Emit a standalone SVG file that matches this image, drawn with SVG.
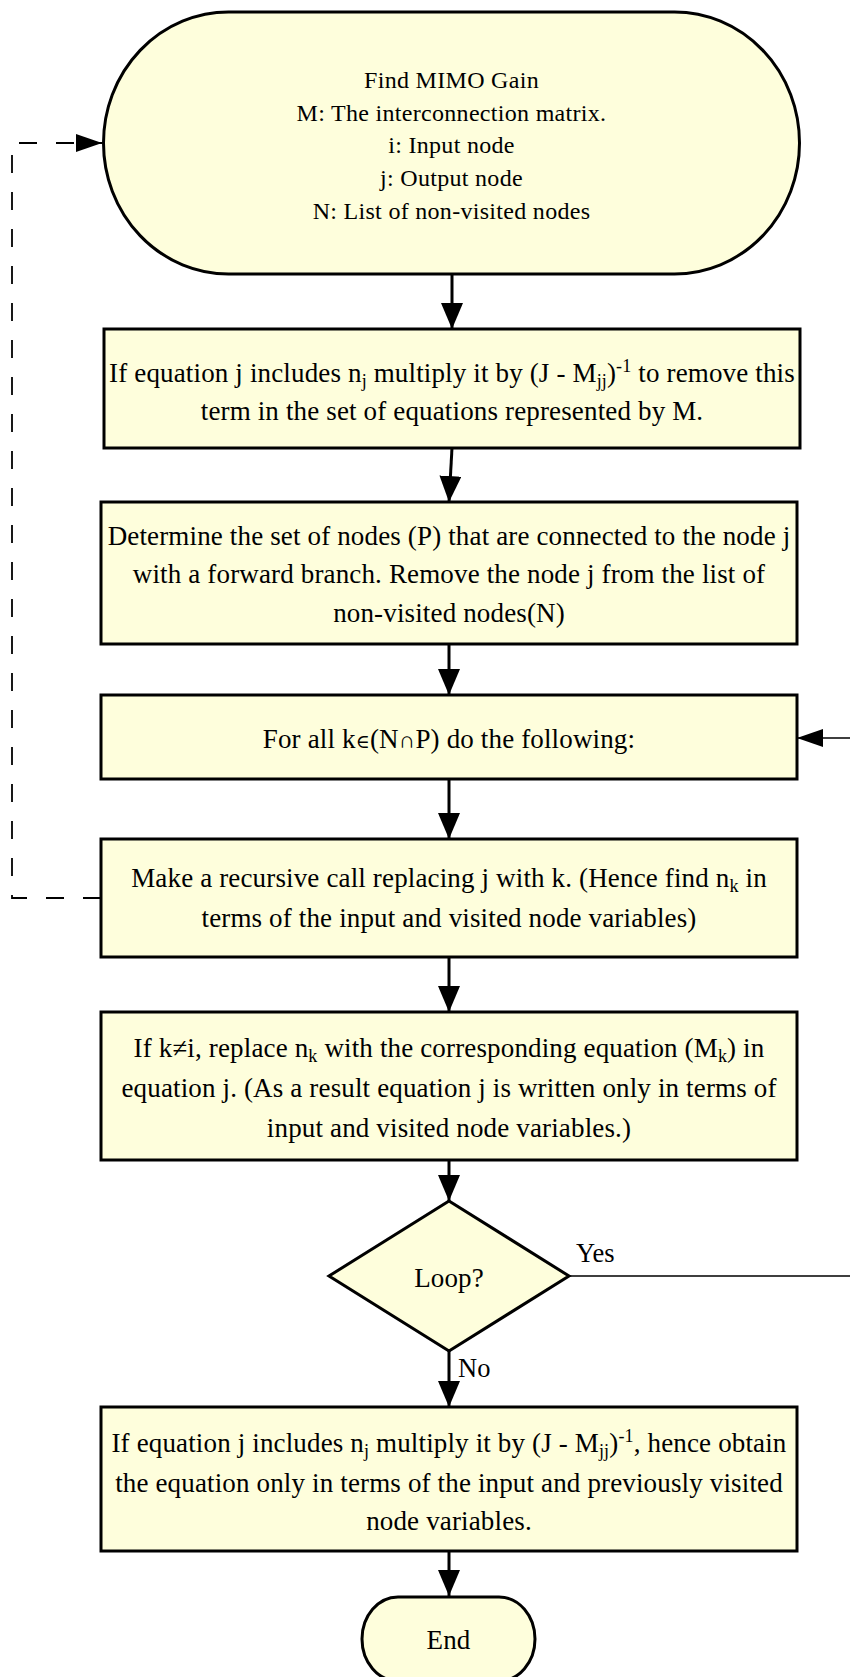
<svg xmlns="http://www.w3.org/2000/svg" width="850" height="1677" viewBox="0 0 850 1677">
  <style>
    .node { fill: #FEFEDC; stroke: #000; stroke-width: 3; }
    .txt { font-family: "Liberation Serif", "DejaVu Serif", serif; font-size: 27px; letter-spacing: 0.15px; fill: #000; text-anchor: middle; }
    .small { font-size: 24px; letter-spacing: 0.3px; }
    .lbl { font-family: "Liberation Serif", "DejaVu Serif", serif; font-size: 26.5px; fill: #000; }
    .flow { fill: none; stroke: #000; stroke-width: 3; }
    .thin { fill: none; stroke: #000; stroke-width: 1.7; }
    .dash { fill: none; stroke: #000; stroke-width: 1.8; stroke-dasharray: 18 19; }
    .sym { font-size: 19px; }
    .cap { font-size: 23px; }
  </style>
  <defs>
    <marker id="arrowV" markerUnits="userSpaceOnUse" markerWidth="26" markerHeight="22" refX="26" refY="11" orient="auto">
      <path d="M0,0 L26,11 L0,22 z" fill="#000"/>
    </marker>
    <marker id="arrowH" markerUnits="userSpaceOnUse" markerWidth="26" markerHeight="18" refX="26" refY="9" orient="auto">
      <path d="M0,0 L26,9 L0,18 z" fill="#000"/>
    </marker>
  </defs>

  <!-- connectors -->
  <g id="connectors">
    <line class="flow" x1="452" y1="275" x2="452" y2="329" marker-end="url(#arrowV)"/>
    <line class="flow" x1="452" y1="448" x2="449" y2="502" marker-end="url(#arrowV)"/>
    <line class="flow" x1="449" y1="644" x2="449" y2="695" marker-end="url(#arrowV)"/>
    <line class="flow" x1="449" y1="779" x2="449" y2="839" marker-end="url(#arrowV)"/>
    <line class="flow" x1="449" y1="957" x2="449" y2="1012" marker-end="url(#arrowV)"/>
    <line class="flow" x1="449" y1="1160" x2="449" y2="1201" marker-end="url(#arrowV)"/>
    <line class="flow" x1="449" y1="1351" x2="449" y2="1407" marker-end="url(#arrowV)"/>
    <line class="flow" x1="449" y1="1551" x2="449" y2="1596" marker-end="url(#arrowV)"/>
    <!-- loop back: Yes branch returns to the for-all step -->
    <path class="thin" d="M569,1276 H864 V738 H797" marker-end="url(#arrowH)"/>
    <!-- recursive call back to the start -->
    <path class="dash" d="M101,898 H12 V143 H102" marker-end="url(#arrowH)"/>
    <text class="lbl" x="576" y="1262">Yes</text>
    <text class="lbl" x="458" y="1377">No</text>
  </g>

  <g id="start">
    <rect class="node" x="103.5" y="12" width="696" height="262" rx="125" ry="131"/>
    <text class="txt small" x="451.5" y="88">Find MIMO Gain</text>
    <text class="txt small" x="451.5" y="120.7">M: The interconnection matrix.</text>
    <text class="txt small" x="451.5" y="153.4">i: Input node</text>
    <text class="txt small" x="451.5" y="186">j: Output node</text>
    <text class="txt small" x="451.5" y="218.7">N: List of non-visited nodes</text>
  </g>

  <g id="remove-self-term">
    <rect class="node" x="104" y="329" width="696" height="119"/>
    <text class="txt" x="452" y="382">If equation j includes n<tspan font-size="18" baseline-shift="-5">j</tspan> multiply it by (J - M<tspan font-size="18" baseline-shift="-5">jj</tspan>)<tspan font-size="18" baseline-shift="10">-1</tspan> to remove this</text>
    <text class="txt" x="452" y="420">term in the set of equations represented by M.</text>
  </g>

  <g id="forward-set">
    <rect class="node" x="101" y="502" width="696" height="142"/>
    <text class="txt" x="449" y="545">Determine the set of nodes (P) that are connected to the node j</text>
    <text class="txt" x="449" y="583">with a forward branch. Remove the node j from the list of</text>
    <text class="txt" x="449" y="622">non-visited nodes(N)</text>
  </g>

  <g id="for-all">
    <rect class="node" x="101" y="695" width="696" height="84"/>
    <text class="txt" x="449" y="748">For all k<tspan class="sym">∈</tspan>(N<tspan class="cap">∩</tspan>P) do the following:</text>
  </g>

  <g id="recursive-call">
    <rect class="node" x="101" y="839" width="696" height="118"/>
    <text class="txt" x="449" y="887">Make a recursive call replacing j with k. (Hence find n<tspan font-size="18" baseline-shift="-5">k</tspan> in</text>
    <text class="txt" x="449" y="927">terms of the input and visited node variables)</text>
  </g>

  <g id="substitute">
    <rect class="node" x="101" y="1012" width="696" height="148"/>
    <text class="txt" x="449" y="1057">If k≠i, replace n<tspan font-size="18" baseline-shift="-5">k</tspan> with the corresponding equation (M<tspan font-size="18" baseline-shift="-5">k</tspan>) in</text>
    <text class="txt" x="449" y="1097">equation j. (As a result equation j is written only in terms of</text>
    <text class="txt" x="449" y="1137">input and visited node variables.)</text>
  </g>

  <g id="loop-decision">
    <polygon class="node" points="449,1201 569,1276 449,1351 329,1276"/>
    <text class="txt" x="449" y="1287">Loop?</text>
  </g>

  <g id="final-equation">
    <rect class="node" x="101" y="1407" width="696" height="144"/>
    <text class="txt" x="449" y="1452">If equation j includes n<tspan font-size="18" baseline-shift="-5">j</tspan> multiply it by (J - M<tspan font-size="18" baseline-shift="-5">jj</tspan>)<tspan font-size="18" baseline-shift="10">-1</tspan>, hence obtain</text>
    <text class="txt" x="449" y="1492">the equation only in terms of the input and previously visited</text>
    <text class="txt" x="449" y="1530">node variables.</text>
  </g>

  <g id="end">
    <rect class="node" x="362" y="1597" width="173" height="84" rx="36" ry="42"/>
    <text class="txt" x="448.5" y="1649">End</text>
  </g>
</svg>
